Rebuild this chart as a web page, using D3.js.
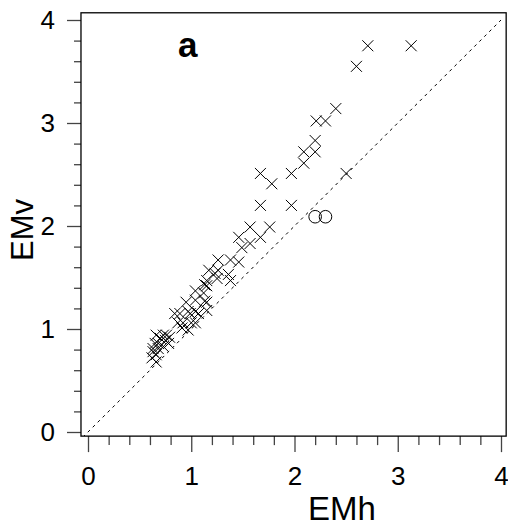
<!DOCTYPE html>
<html lang="en">
  <head>
    <meta charset="UTF-8" />
    <title>EMv vs EMh</title>
    <style>
      body { margin: 0; background: #fff; }
      svg { display: block; font-family: Arial, "Liberation Sans", sans-serif; }
    </style>
  </head>
  <body>
    <svg id="chart" width="508" height="529"></svg>

    <script src="https://d3js.org/d3.v7.min.js"></script>

    <script>
      // × markers (EMh, EMv)
      const crossEMh = [
        2.71, 3.13, 2.60, 2.40, 2.21, 2.30, 2.20, 2.09, 2.20, 2.09,
        1.67, 1.78, 1.97, 2.50, 1.67, 1.97,
        1.57, 1.76, 1.46, 1.67, 1.57, 1.49, 1.26, 1.38, 1.46,
        1.17, 1.26, 1.36, 1.25, 1.15, 1.38, 1.15, 1.04, 1.04, 0.95, 1.15,
        1.23, 1.13, 1.12, 1.13,
        0.84, 0.89, 0.99, 1.07, 1.15, 0.92, 1.00, 0.91, 0.97,
        0.97, 1.04, 0.87, 1.04,
        0.73, 0.66, 0.70, 0.75, 0.68, 0.78, 0.73, 0.63, 0.66, 0.62, 0.66,
        0.76, 0.79, 0.63, 0.68, 0.65
      ];
      const crossEMv = [
        3.75, 3.75, 3.55, 3.14, 3.02, 3.02, 2.83, 2.72, 2.72, 2.61,
        2.51, 2.41, 2.51, 2.51, 2.20, 2.20,
        1.99, 1.99, 1.89, 1.89, 1.83, 1.79, 1.67, 1.67, 1.65,
        1.57, 1.57, 1.53, 1.49, 1.47, 1.47, 1.42, 1.37, 1.28, 1.26, 1.26,
        1.54, 1.43, 1.35, 1.27,
        1.15, 1.15, 1.15, 1.15, 1.18, 1.06, 1.06, 1.01, 0.99,
        1.17, 1.17, 1.06, 1.06,
        0.94, 0.94, 0.91, 0.89, 0.86, 0.86, 0.83, 0.78, 0.75, 0.72, 0.68,
        0.94, 0.92, 0.81, 0.81, 0.86
      ];
      // ○ markers (EMh, EMv)
      const circleEMh = [2.20, 2.30];
      const circleEMv = [2.09, 2.09];

      const majorTicks = [0, 1, 2, 3, 4];
      const minorTicks = d3.range(0, 4.01, 0.2).filter(v => Math.abs(v - Math.round(v)) > 0.01);
      const panelLabel = "a";
      const xTitle = "EMh";
      const yTitle = "EMv";

      const svg = d3.select("#chart");

      const x = d3.scaleLinear().domain([0, 4]).range([88, 501]);
      const y = d3.scaleLinear().domain([0, 4]).range([432, 20]);

      // plot box edges (data units)
      const bx0 = -0.068, bx1 = 4.05, by0 = -0.04, by1 = 4.07;
      const boxL = x(bx0), boxR = x(bx1), boxT = y(by1), boxB = y(by0);

      svg.append("clipPath").attr("id", "clip")
        .append("rect")
        .attr("x", boxL).attr("y", boxT)
        .attr("width", boxR - boxL).attr("height", boxB - boxT);

      // y = x reference line
      svg.append("line")
        .attr("clip-path", "url(#clip)")
        .attr("x1", x(-0.05)).attr("y1", y(-0.05))
        .attr("x2", x(4)).attr("y2", y(4))
        .attr("stroke", "#000")
        .attr("stroke-width", 1)
        .attr("stroke-dasharray", "3,4");

      // axes
      function styleAxis(g) {
        g.select(".domain").remove();
        g.selectAll(".tick line").attr("stroke", "#444").attr("stroke-width", 1.3);
        g.selectAll(".tick text")
          .attr("fill", "#000")
          .style("font-size", "26px")
          .style("font-family", "Arial, 'Liberation Sans', sans-serif");
      }

      svg.append("g")
        .attr("transform", `translate(0,${boxB})`)
        .call(d3.axisBottom(x).tickValues(majorTicks).tickSize(16).tickPadding(14).tickFormat(d3.format("d")))
        .call(styleAxis);
      svg.append("g")
        .attr("transform", `translate(0,${boxB})`)
        .call(d3.axisBottom(x).tickValues(minorTicks).tickSize(9).tickFormat(""))
        .call(styleAxis);

      svg.append("g")
        .attr("transform", `translate(${boxL},0)`)
        .call(d3.axisLeft(y).tickValues(majorTicks).tickSize(14).tickPadding(12).tickFormat(d3.format("d")))
        .call(styleAxis);
      svg.append("g")
        .attr("transform", `translate(${boxL},0)`)
        .call(d3.axisLeft(y).tickValues(minorTicks).tickSize(7).tickFormat(""))
        .call(styleAxis);

      // box
      svg.append("rect")
        .attr("x", boxL).attr("y", boxT)
        .attr("width", boxR - boxL).attr("height", boxB - boxT)
        .attr("fill", "none")
        .attr("stroke", "#000")
        .attr("stroke-width", 1.3);

      // × markers
      const crosses = crossEMh.map((h, i) => ({ h: h, v: crossEMv[i] }));
      const s = 5.5;
      svg.append("g")
        .selectAll("path")
        .data(crosses)
        .enter()
        .append("path")
        .attr("d", d => {
          const cx = x(d.h), cy = y(d.v);
          return `M${cx - s},${cy - s}L${cx + s},${cy + s}M${cx - s},${cy + s}L${cx + s},${cy - s}`;
        })
        .attr("stroke", "#000")
        .attr("stroke-width", 1)
        .attr("fill", "none");

      // ○ markers
      const circles = circleEMh.map((h, i) => ({ h: h, v: circleEMv[i] }));
      svg.append("g")
        .selectAll("circle")
        .data(circles)
        .enter()
        .append("circle")
        .attr("cx", d => x(d.h))
        .attr("cy", d => y(d.v))
        .attr("r", 6.3)
        .attr("fill", "none")
        .attr("stroke", "#000")
        .attr("stroke-width", 1);

      // titles
      svg.append("text")
        .attr("x", 342).attr("y", 520)
        .attr("text-anchor", "middle")
        .style("font-size", "33px")
        .text(xTitle);

      svg.append("text")
        .attr("transform", "translate(33,230) rotate(-90)")
        .attr("text-anchor", "middle")
        .style("font-size", "31px")
        .text(yTitle);

      svg.append("text")
        .attr("x", 178).attr("y", 57)
        .style("font-size", "35px")
        .style("font-weight", "bold")
        .text(panelLabel);
    </script>
  </body>
</html>
